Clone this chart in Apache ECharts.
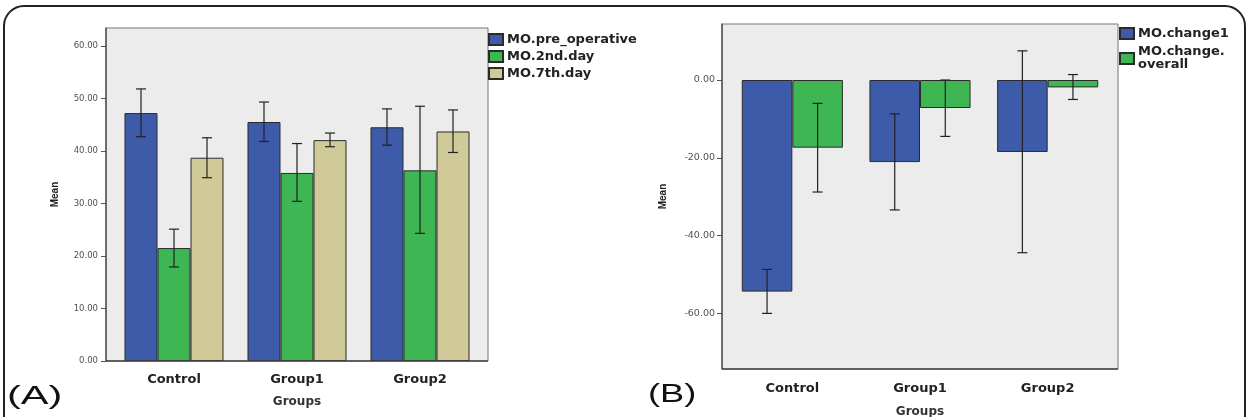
<!DOCTYPE html>
<html lang="en">
<head>
<meta charset="UTF-8">
<title>MO bar charts</title>
<style>
  html, body { margin: 0; padding: 0; background: #fff; }
  #container { width: 1249px; height: 417px; }
</style>
</head>
<body>
<div id="container"></div>
<script src="https://cdn.jsdelivr.net/npm/echarts@6/dist/echarts.min.js"></script>
<script type="text/javascript">
// ---- data ----
var categories = ['Control', 'Group1', 'Group2'];

// panel A
var preOp     = [47.2, 45.5, 44.5];
var preOpLo   = [42.7, 41.8, 41.1];
var preOpHi   = [51.8, 49.3, 48.0];
var day2      = [21.5, 35.8, 36.3];
var day2Lo    = [17.9, 30.4, 24.3];
var day2Hi    = [25.1, 41.4, 48.5];
var day7      = [38.7, 42.05, 43.7];
var day7Lo    = [34.9, 40.8, 39.7];
var day7Hi    = [42.5, 43.4, 47.8];
var ticksA    = [0, 10, 20, 30, 40, 50, 60];

// panel B
var change1     = [-54.4, -21.1, -18.5];
var change1Lo   = [-60.0, -33.4, -44.4];
var change1Hi   = [-48.7, -8.7, 7.5];
var changeAll   = [-17.4, -7.2, -1.9];
var changeAllLo = [-28.8, -14.5, -5.0];
var changeAllHi = [-6.0, 0.0, 1.4];
var ticksB      = [-60, -40, -20, 0];

var WIDE = '"DejaVu Sans", Verdana, sans-serif';
var NARROW = 'Arial, "Liberation Sans", sans-serif';
var BLUE = '#3d5ba9', GREEN = '#3db653', TAN = '#cfca98';
var GAP_A = 0.195, GAP_B = 0.208;
var PAD = 6.5; // SPSS leaves a little room at both ends of the category axis

// plot frames (outer box incl. padding)
var boxA = { x: 106, y: 28, w: 382, h: 333 };
var boxB = { x: 722, y: 24, w: 396, h: 345 };

function errData(lo, hi) {
    return lo.map(function (v, i) { return [i, v, hi[i]]; });
}

// error bar drawn at the centre of the idx-th bar inside the category band
function errRender(n, idx, gap) {
    return function (params, api) {
        var c = api.value(0);
        var band = api.size([1, 0])[0];
        var bw = band * (1 - gap) / n;
        var x = api.coord([c, 0])[0] - band * (1 - gap) / 2 + bw * (idx + 0.5);
        var y1 = api.coord([c, api.value(1)])[1];
        var y2 = api.coord([c, api.value(2)])[1];
        var cap = 5;
        var st = { stroke: '#222', lineWidth: 1.2 };
        return {
            type: 'group',
            children: [
                { type: 'line', shape: { x1: x, y1: y1, x2: x, y2: y2 }, style: st },
                { type: 'line', shape: { x1: x - cap, y1: y1, x2: x + cap, y2: y1 }, style: st },
                { type: 'line', shape: { x1: x - cap, y1: y2, x2: x + cap, y2: y2 }, style: st }
            ]
        };
    };
}

function barSeries(name, data, color, axis, gap) {
    return {
        name: name, type: 'bar', data: data,
        xAxisIndex: axis, yAxisIndex: axis,
        barGap: '0%', barCategoryGap: (gap * 100) + '%',
        itemStyle: { color: color, borderColor: '#2b2b2b', borderWidth: 1 }
    };
}

function errSeries(lo, hi, axis, n, idx, gap) {
    return {
        type: 'custom', data: errData(lo, hi),
        xAxisIndex: axis, yAxisIndex: axis, z: 5, silent: true,
        encode: { x: 0, y: [1, 2] },
        renderItem: errRender(n, idx, gap)
    };
}

function catAxis(grid, nameGap, margin) {
    return {
        type: 'category', gridIndex: grid, data: categories,
        name: 'Groups', nameLocation: 'middle', nameGap: nameGap,
        nameTextStyle: { fontFamily: WIDE, fontWeight: 'bold', fontSize: 12, color: '#333' },
        axisLine: { show: false, onZero: false },
        axisTick: { alignWithLabel: true, length: 8, lineStyle: { color: '#444', width: 1.5 } },
        axisLabel: { margin: margin, fontFamily: WIDE, fontWeight: 'bold', fontSize: 13, color: '#222' }
    };
}

function valAxis(grid, min, max, ticks, gap, fs, margin) {
    return {
        type: 'value', gridIndex: grid, min: min, max: max, offset: PAD,
        name: 'Mean', nameLocation: 'middle', nameGap: gap, nameRotate: 90,
        nameTextStyle: { fontFamily: NARROW, fontWeight: 'bold', fontSize: 10, color: '#222' },
        axisLine: { show: true, lineStyle: { color: '#555', width: 1.5 } },
        axisTick: { show: true, length: 5, customValues: ticks, lineStyle: { color: '#555' } },
        axisLabel: {
            customValues: ticks, margin: margin, fontFamily: WIDE, fontSize: fs, color: '#505050',
            formatter: function (v) { return v.toFixed(2); }
        },
        splitLine: { show: false }
    };
}

function frame(b) {
    return [
        { type: 'rect', z: -10, silent: true,
          shape: { x: b.x, y: b.y, width: b.w, height: b.h },
          style: { fill: '#ececec', stroke: '#777', lineWidth: 1 } },
        { type: 'line', z: 10, silent: true,
          shape: { x1: b.x, y1: b.y + b.h, x2: b.x + b.w, y2: b.y + b.h },
          style: { stroke: '#444', lineWidth: 1.5 } }
    ];
}

function inner(b) {
    return { left: b.x + PAD, top: b.y, width: b.w - 2 * PAD, height: b.h,
             containLabel: false, outerBoundsMode: 'none' };
}

var chart = echarts.init(document.getElementById('container'), null, { renderer: 'canvas' });

var option = {
    backgroundColor: '#fff',
    animation: false,
    grid: [inner(boxA), inner(boxB)],
    xAxis: [catAxis(0, 35, 12), catAxis(1, 37, 13)],
    yAxis: [
        valAxis(0, 0, 63.4, ticksA, 46, 8.5, 8),
        valAxis(1, -74.3, 14.4, ticksB, 54, 9.5, 7)
    ],
    legend: [
        {
            left: 488, top: 32, orient: 'vertical', padding: 0,
            itemWidth: 14, itemHeight: 11, itemGap: 2, selectedMode: false, icon: 'rect',
            data: ['MO.pre_operative', 'MO.2nd.day', 'MO.7th.day'],
            textStyle: { fontFamily: WIDE, fontWeight: 'bold', fontSize: 13, lineHeight: 15,
                         color: '#222', padding: [0, 0, 0, -1] }
        },
        {
            left: 1119, top: 27, orient: 'vertical', padding: 0,
            itemWidth: 14, itemHeight: 11, itemGap: 5.5, selectedMode: false, icon: 'rect',
            data: ['MO.change1', 'MO.change.overall'],
            formatter: function (n) { return n.replace('.overall', '.\noverall'); },
            textStyle: { fontFamily: WIDE, fontWeight: 'bold', fontSize: 13, lineHeight: 13,
                         color: '#222', padding: [0, 0, 0, -1] }
        }
    ],
    graphic: frame(boxA).concat(frame(boxB)).concat([
        { type: 'rect', z: 100, silent: true,
          shape: { x: 4, y: 6, width: 1241, height: 440, r: 20 },
          style: { fill: 'none', stroke: '#222', lineWidth: 2 } },
        { type: 'text', x: 7, y: 384, scaleX: 1.6,
          style: { text: '(A)', fontFamily: NARROW, fontSize: 26, fill: '#111' } },
        { type: 'text', x: 648, y: 383, scaleX: 1.45,
          style: { text: '(B)', fontFamily: NARROW, fontSize: 25, fill: '#111' } }
    ]),
    series: [
        barSeries('MO.pre_operative', preOp, BLUE, 0, GAP_A),
        barSeries('MO.2nd.day', day2, GREEN, 0, GAP_A),
        barSeries('MO.7th.day', day7, TAN, 0, GAP_A),
        errSeries(preOpLo, preOpHi, 0, 3, 0, GAP_A),
        errSeries(day2Lo, day2Hi, 0, 3, 1, GAP_A),
        errSeries(day7Lo, day7Hi, 0, 3, 2, GAP_A),
        barSeries('MO.change1', change1, BLUE, 1, GAP_B),
        barSeries('MO.change.overall', changeAll, GREEN, 1, GAP_B),
        errSeries(change1Lo, change1Hi, 1, 2, 0, GAP_B),
        errSeries(changeAllLo, changeAllHi, 1, 2, 1, GAP_B)
    ]
};

chart.setOption(option);
</script>
</body>
</html>
